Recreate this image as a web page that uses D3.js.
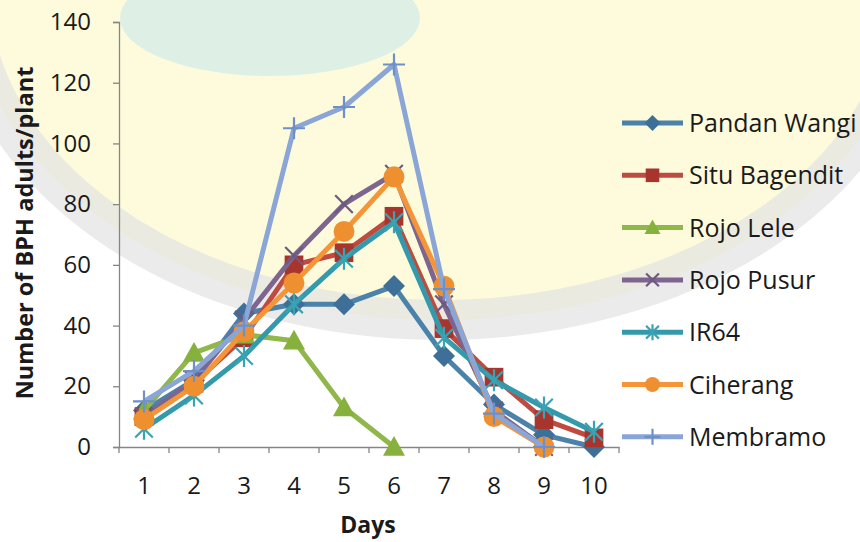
<!DOCTYPE html>
<html>
<head>
<meta charset="utf-8">
<script src="https://cdn.jsdelivr.net/npm/d3@7"></script>
<style>
  html, body { margin: 0; padding: 0; background: #ffffff; }
  svg { display: block; }
  text { font-family: "Open Sans", "DejaVu Sans", sans-serif; fill: #1a1a1a; }
</style>
</head>
<body>
<svg id="chart" width="860" height="542"></svg>
<script>
// ---- data ----
const days = ["1","2","3","4","5","6","7","8","9","10"];
const seriesNames = ["Pandan Wangi","Situ Bagendit","Rojo Lele","Rojo Pusur","IR64","Ciherang","Membramo"];
const pandanWangi  = [12, 22, 44, 47, 47, 53, 30, 14, 4, 0];
const situBagendit = [10, 21, 36, 60, 64, 76, 39, 23, 9, 3];
const rojoLele     = [12, 31, 37, 35, 13, 0, null, null, null, null];
const rojoPusur    = [10, 22, 42, 63, 80, 90, 47, 12, 0, null];
const ir64         = [6, 17, 30, 47, 62, 74, 36, 22, 13, 5];
const ciherang     = [9, 20, 38, 54, 71, 89, 53, 10, 0, null];
const membramo     = [15, 25, 40, 105, 112, 126, 52, 11, 0, null];
const yTicks = [0, 20, 40, 60, 80, 100, 120, 140];
const yTitle = "Number of BPH adults/plant";
const xTitle = "Days";

const seriesValues = [pandanWangi, situBagendit, rojoLele, rojoPusur, ir64, ciherang, membramo];
const lineColors   = ["#4a82aa","#bf4b40","#8fb74a","#7d6590","#349aab","#f5953a","#8aa6d6"];
const markColors   = ["#3e6f98","#a8352d","#86b13c","#6e5a80","#3aa3b3","#ef9030","#6f8fc8"];
const markTypes    = ["diamond","square","triangle","x","asterisk","circle","plus"];

// ---- layout ----
const svg = d3.select("#chart");
const W = 860, H = 542;
const plotL = 119, plotR = 619, plotT = 22, plotB = 447;

// watermark-like background
const bg = svg.append("g");
bg.append("rect").attr("width", W).attr("height", H).attr("fill", "#ffffff");
bg.append("ellipse").attr("cx", 440).attr("cy", -10).attr("rx", 470).attr("ry", 330)
  .attr("fill", "#fdfbdc").attr("stroke", "#e3e3e3").attr("stroke-width", 40).attr("stroke-opacity", 0.7);
bg.append("ellipse").attr("cx", 270).attr("cy", 18).attr("rx", 150).attr("ry", 58)
  .attr("fill", "#d6eee8").attr("opacity", 0.8);

const x = d3.scaleBand().domain(days).range([plotL, plotR]).padding(0);
const y = d3.scaleLinear().domain([0, 140]).range([plotB, plotT]);
const cx = d => x(d) + x.bandwidth() / 2;

// ---- axes ----
const axisColor = "#868686";
const yAxis = svg.append("g").attr("transform", `translate(${plotL},0)`)
  .call(d3.axisLeft(y).tickValues(yTicks).tickSize(6).tickPadding(22));
yAxis.select(".domain").attr("stroke", axisColor).attr("stroke-width", 1.3);
yAxis.selectAll(".tick line").attr("stroke", axisColor).attr("stroke-width", 1.3);
yAxis.selectAll(".tick text").style("font-size", "24px").style("font-family", "Open Sans").attr("fill", "#1a1a1a");

const xAxis = svg.append("g").attr("transform", `translate(0,${plotB})`)
  .call(d3.axisBottom(x).tickSize(0).tickPadding(30));
xAxis.select(".domain").attr("stroke", axisColor).attr("stroke-width", 1.3);
xAxis.selectAll(".tick text").style("font-size", "24px").style("font-family", "Open Sans").attr("fill", "#1a1a1a");
// category boundary ticks
const bounds = days.map(d => x(d)).concat([x.range()[1]]);
xAxis.selectAll("line.bt").data(bounds).enter().append("line").attr("class", "bt")
  .attr("x1", d => d).attr("x2", d => d).attr("y1", 0).attr("y2", 6)
  .attr("stroke", axisColor).attr("stroke-width", 1.3);

// titles
svg.append("text").attr("transform", `translate(33,233) rotate(-90)`)
  .attr("text-anchor", "middle").style("font-size", "23.5px").style("font-weight", "bold").text(yTitle);
svg.append("text").attr("x", 368).attr("y", 533)
  .attr("text-anchor", "middle").style("font-size", "23px").style("font-weight", "bold").text(xTitle);

// ---- markers ----
function marker(g, type, color, s) {
  const h = s;
  if (type === "diamond") {
    g.append("path").attr("d", `M0,${-h}L${h},0L0,${h}L${-h},0Z`).attr("fill", color);
  } else if (type === "square") {
    g.append("rect").attr("x", -h * 0.85).attr("y", -h * 0.85).attr("width", h * 1.7).attr("height", h * 1.7).attr("fill", color);
  } else if (type === "triangle") {
    g.append("path").attr("d", `M0,${-h}L${h},${h * 0.8}L${-h},${h * 0.8}Z`).attr("fill", color);
  } else if (type === "circle") {
    g.append("circle").attr("r", h * 0.95).attr("fill", color);
  } else if (type === "x") {
    const a = h * 0.8;
    g.append("path").attr("d", `M${-a},${-a}L${a},${a}M${a},${-a}L${-a},${a}`).attr("stroke", color).attr("stroke-width", 2.2);
  } else if (type === "asterisk") {
    const a = h * 0.8;
    g.append("path").attr("d", `M${-a},${-a}L${a},${a}M${a},${-a}L${-a},${a}M0,${-h}L0,${h}`).attr("stroke", color).attr("stroke-width", 2.2);
  } else if (type === "plus") {
    g.append("path").attr("d", `M${-h},0L${h},0M0,${-h}L0,${h}`).attr("stroke", color).attr("stroke-width", 2.2);
  }
}

// ---- series ----
const line = d3.line().defined(d => d.v !== null).x(d => cx(d.day)).y(d => y(d.v));
seriesValues.forEach((vals, i) => {
  const pts = vals.map((v, j) => ({ day: days[j], v }));
  const g = svg.append("g");
  g.append("path").datum(pts).attr("d", line).attr("fill", "none")
    .attr("stroke", lineColors[i]).attr("stroke-width", 5).attr("stroke-linejoin", "round");
  pts.filter(p => p.v !== null).forEach(p => {
    const mg = g.append("g").attr("transform", `translate(${cx(p.day)},${y(p.v)})`);
    marker(mg, markTypes[i], markColors[i], 11);
  });
});

// ---- legend ----
const legY0 = 123, legStep = 52.3;
seriesNames.forEach((name, i) => {
  const ly = legY0 + i * legStep;
  const g = svg.append("g");
  g.append("line").attr("x1", 622).attr("x2", 683).attr("y1", ly).attr("y2", ly)
    .attr("stroke", lineColors[i]).attr("stroke-width", 5);
  const mg = g.append("g").attr("transform", `translate(652.5,${ly})`);
  marker(mg, markTypes[i], markColors[i], 8);
  g.append("text").attr("x", 689).attr("y", ly + 9).style("font-size", "25px").text(name);
});
</script>
</body>
</html>
